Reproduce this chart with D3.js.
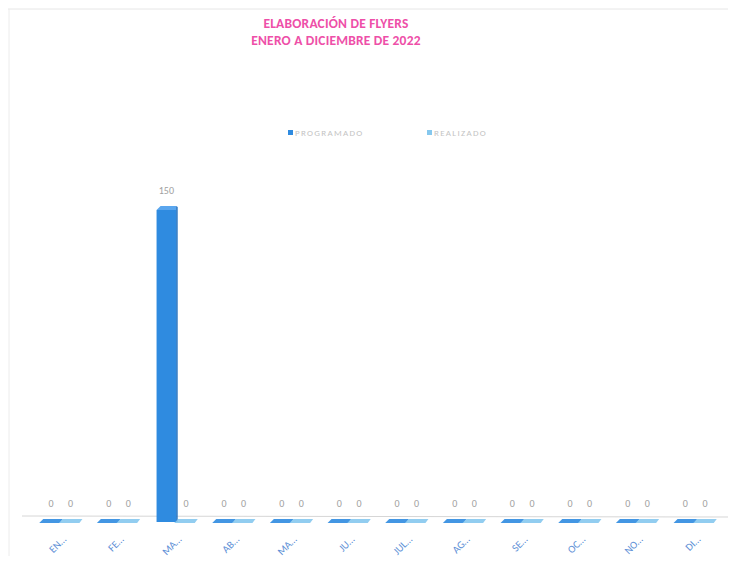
<!DOCTYPE html>
<html><head><meta charset="utf-8">
<script src="https://cdn.jsdelivr.net/npm/d3@7"></script>
<style>body{margin:0;background:#fff}svg{display:block;font-family:Calibri,"Liberation Sans","Open Sans",sans-serif}</style>
</head><body><svg id="c" width="735" height="563"></svg>
<script>
const categories = ["ENERO","FEBRERO","MARZO","ABRIL","MAYO","JUNIO","JULIO","AGOSTO","SEPTIEMBRE","OCTUBRE","NOVIEMBRE","DICIEMBRE"];
const shortLabels = ["EN…","FE…","MA…","AB…","MA…","JU…","JUL…","AG…","SE…","OC…","NO…","DI…"];
const series = ["PROGRAMADO","REALIZADO"];
const programado = [0,0,150,0,0,0,0,0,0,0,0,0];
const realizado  = [0,0,0,0,0,0,0,0,0,0,0,0];
const colors = ["#2f8be0","#86c8ee"];
const sideColors = ["#1f6fbf","#5fa9d8"];
const topColors = ["#5aa6ee","#b3def5"];

const svg = d3.select("#c");
// faint scan frame
svg.append("line").attr("x1",8).attr("x2",728).attr("y1",9).attr("y2",9).attr("stroke","#e6e6e6");
svg.append("line").attr("x1",9).attr("x2",9).attr("y1",9).attr("y2",556).attr("stroke","#ececec");

// title
const title = svg.append("text").attr("text-anchor","middle")
  .attr("fill","#ee4fa8").attr("font-weight","bold").attr("font-size",13.5).attr("letter-spacing",0.2);
title.append("tspan").attr("x",336).attr("y",28).text("ELABORACIÓN DE FLYERS");
title.append("tspan").attr("x",336).attr("y",45).text("ENERO A DICIEMBRE DE 2022");

// legend
const leg = svg.append("g");
[[288,"PROGRAMADO"],[427,"REALIZADO"]].forEach((d,i)=>{
  leg.append("rect").attr("x",d[0]).attr("y",130).attr("width",5).attr("height",5).attr("fill",colors[i]);
  leg.append("text").attr("x",d[0]+7).attr("y",136).attr("font-size",9).attr("fill","#c4c4c4")
    .attr("letter-spacing",1.3).text(d[1]);
});

const x = d3.scaleBand().domain(categories).range([32,724]).paddingInner(0.32).paddingOuter(0.16);
const xs = d3.scaleBand().domain(series).range([0,x.bandwidth()]);
const y = d3.scaleLinear().domain([0,150]).range([522,210]);

// floor line
svg.append("line").attr("x1",22).attr("x2",728).attr("y1",516).attr("y2",517).attr("stroke","#d6d6d6").attr("stroke-width",1);

const data = [];
categories.forEach((c,i)=>{
  [programado[i],realizado[i]].forEach((v,s)=>data.push({c,s,v,name:series[s]}));
});
const depth = 4;
const g = svg.append("g");
data.forEach(d=>{
  const x0 = x(d.c)+xs(d.name), w = xs.bandwidth();
  const y0 = y(d.v), y1 = y(0);
  if (d.v > 0) {
    g.append("rect").attr("x",x0).attr("y",y0).attr("width",w).attr("height",y1-y0).attr("fill",colors[d.s]);
    g.append("path").attr("d",`M${x0},${y0} L${x0+depth},${y0-depth} L${x0+w},${y0-depth} L${x0+w},${y0} Z`).attr("fill",topColors[d.s]);
    g.append("path").attr("d",`M${x0+w},${y0} L${x0+w},${y0-depth} L${x0+w+1.5},${y0-depth+1} L${x0+w+1.5},${y1} L${x0+w},${y1} Z`).attr("fill",sideColors[d.s]);
  } else {
    g.append("path").attr("d",`M${x0-2},${y1+1} L${x0+2},${y1-3} L${x0+w+2},${y1-3} L${x0+w-1},${y1+1} Z`).attr("fill",colors[d.s]).attr("opacity",0.9);
  }
  g.append("text").attr("x",x0+w/2).attr("y",d.v>0? y0-16 : 507).attr("text-anchor","middle")
    .attr("font-size",10).attr("fill","#a0a0a0").text(d.v);
});

// category labels
svg.append("g").selectAll("text").data(categories).join("text")
  .attr("transform",(d,i)=>`translate(${x(d)+x.bandwidth()/2+6},540) rotate(-45)`)
  .attr("text-anchor","end").attr("font-size",10.5).attr("fill","#5d8fd6")
  .text((d,i)=>shortLabels[i]);
</script></body></html>
